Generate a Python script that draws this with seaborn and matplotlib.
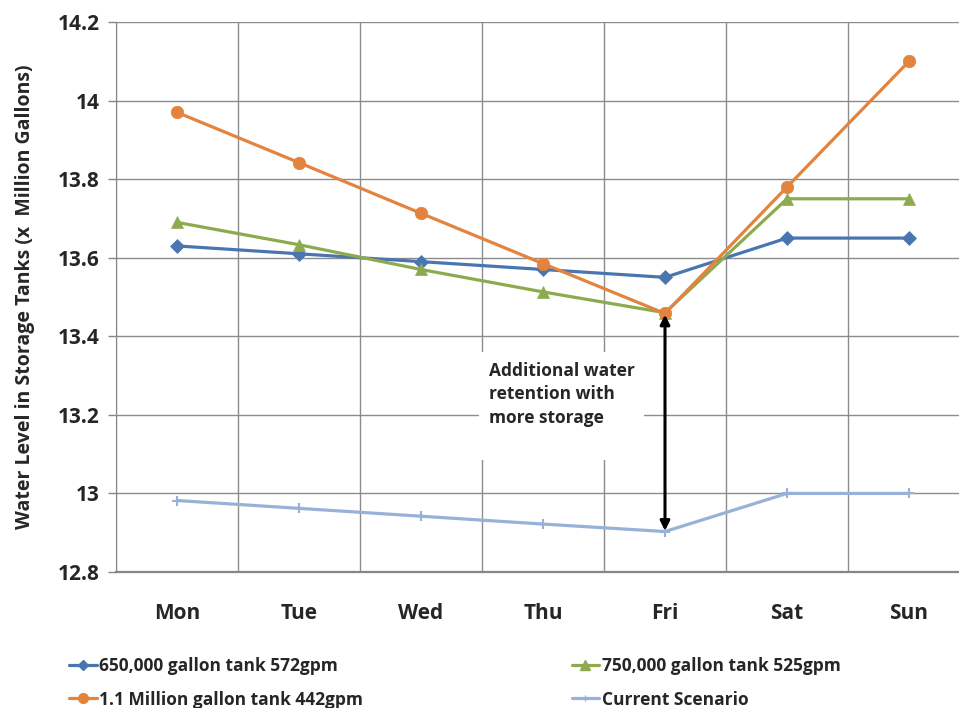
import pandas as pd
import numpy as np
import matplotlib
matplotlib.use('Agg')
import matplotlib.pyplot as plt
from matplotlib.lines import Line2D
import seaborn as sns

days = ['Mon', 'Tue', 'Wed', 'Thu', 'Fri', 'Sat', 'Sun']
tank_650k = [13.63, 13.61, 13.59, 13.57, 13.55, 13.65, 13.65]
tank_750k = [13.69, 13.633, 13.57, 13.513, 13.46, 13.75, 13.75]
tank_1_1m = [13.97, 13.842, 13.713, 13.585, 13.458, 13.78, 14.10]
current = [12.982, 12.962, 12.942, 12.922, 12.903, 13.0, 13.0]
series_names = ['650,000 gallon tank 572gpm', '750,000 gallon tank 525gpm',
                '1.1 Million gallon tank 442gpm', 'Current Scenario']
y_ticks = [12.8, 13.0, 13.2, 13.4, 13.6, 13.8, 14.0, 14.2]
y_labels = ['12.8', '13', '13.2', '13.4', '13.6', '13.8', '14', '14.2']

colors = {series_names[0]: '#4A76B0', series_names[1]: '#8DAB4E',
          series_names[2]: '#E2843E', series_names[3]: '#97B1D9'}
markers = {series_names[0]: 'D', series_names[1]: '^',
           series_names[2]: 'o', series_names[3]: '+'}
msizes = {series_names[0]: 7, series_names[1]: 9,
          series_names[2]: 9, series_names[3]: 7}

df = pd.DataFrame({
    'day': days * 4,
    'level': tank_650k + tank_750k + tank_1_1m + current,
    'series': sum([[n] * len(days) for n in series_names], []),
})

sns.set_style('white')
plt.rcParams['font.family'] = ['Open Sans', 'DejaVu Sans']
plt.rcParams['font.weight'] = 'bold'

fig = plt.figure(figsize=(9.59, 7.08), dpi=100)
ax = fig.add_axes([116 / 959, 1 - 572 / 708, 854 / 959, 550 / 708])

for name in series_names:
    sub = df[df['series'] == name]
    sns.lineplot(data=sub, x='day', y='level', color=colors[name], marker=markers[name],
                 markersize=msizes[name], markeredgecolor=colors[name],
                 markeredgewidth=1.5 if name == series_names[3] else 0.5,
                 linewidth=2.3, sort=False, ax=ax, zorder=3, legend=False)

ax.set_xlim(-0.5, 6.5)
ax.set_ylim(12.8, 14.2)
ax.set_xticks(range(len(days)))
ax.set_xticklabels(days, fontsize=15, fontweight='bold')
ax.set_xticks(np.arange(-0.5, 7, 1), minor=True)
ax.tick_params(axis='x', which='major', length=0, pad=22)
ax.tick_params(axis='x', which='minor', length=6, color='#868686', width=1)
ax.set_yticks(y_ticks)
ax.set_yticklabels(y_labels, fontsize=15, fontweight='bold')
ax.tick_params(axis='y', length=6, color='#868686', width=1, pad=6, left=True)
ax.grid(False)
ax.grid(True, which='minor', axis='x', color='#8c8c8c', linewidth=1)
ax.grid(True, which='major', axis='y', color='#8c8c8c', linewidth=1)
ax.set_axisbelow(True)
for s in ['top', 'right']:
    ax.spines[s].set_visible(False)
ax.spines['left'].set_color('#868686')
ax.spines['bottom'].set_color('#868686')
ax.spines['bottom'].set_linewidth(1.6)
ax.set_xlabel('')
ax.set_ylabel('Water Level in Storage Tanks (x  Million Gallons)', fontsize=14,
              fontweight='bold', labelpad=16)

ax.annotate('', xy=(4, 12.905), xytext=(4, 13.455),
            arrowprops=dict(arrowstyle='<|-|>', color='black', lw=2.2,
                            mutation_scale=14, shrinkA=0, shrinkB=0), zorder=4)
ax.text(2.555, 13.335, 'Additional water\nretention with\nmore storage\n',
        fontsize=12.5, fontweight='bold', va='top', ha='left', linespacing=1.4,
        bbox=dict(facecolor='white', edgecolor='none', pad=7), zorder=2)

handles = [Line2D([], [], color=colors[n], marker=markers[n], markersize=msizes[n] - 2,
                  markeredgecolor=colors[n], linewidth=2.3) for n in series_names]
order = [0, 2, 1, 3]
fig.legend([handles[i] for i in order], [series_names[i] for i in order],
           ncol=2, loc='upper left', bbox_to_anchor=(62 / 959, 1 - 650 / 708),
           frameon=False, fontsize=12.5, handlelength=1.6, handletextpad=0.15,
           columnspacing=12.0, labelspacing=0.9, borderaxespad=0)

fig.savefig('out.png', dpi=100)
